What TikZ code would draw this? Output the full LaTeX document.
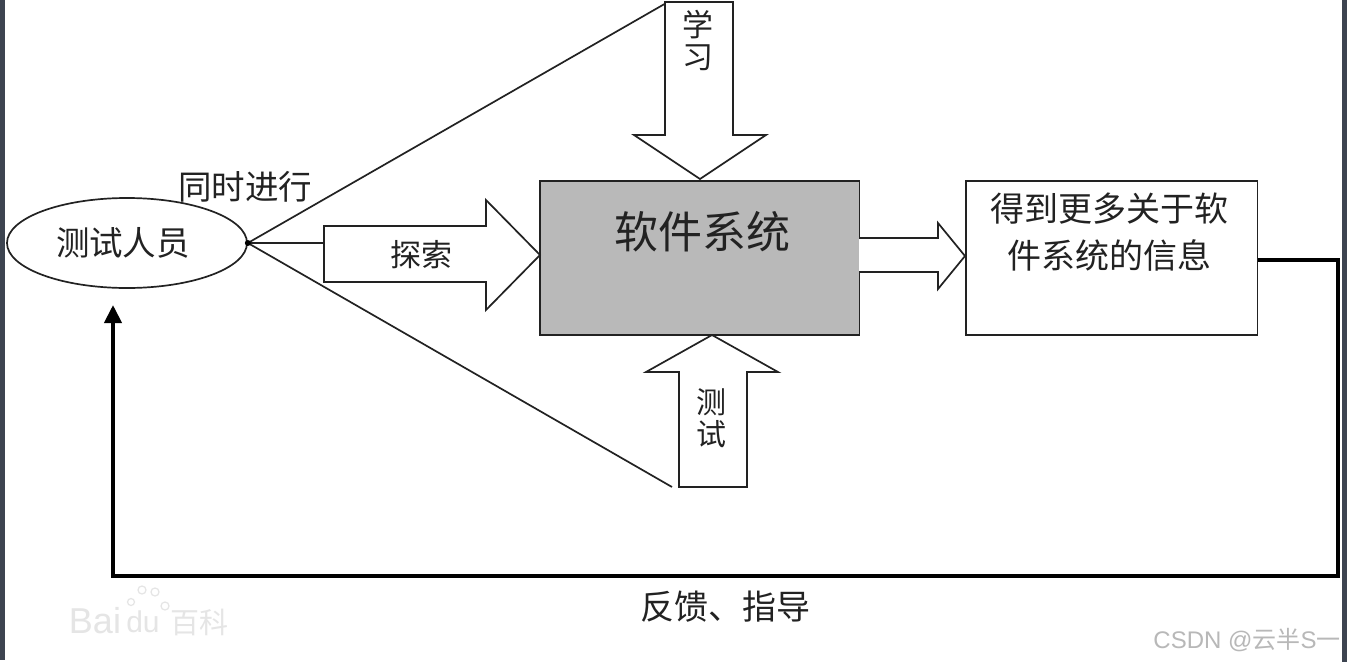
\documentclass[tikz,border=0pt]{standalone}
\usepackage{fontspec}
\setmainfont{Noto Sans CJK SC}[Scale=1]
\newfontfamily\latinf{Liberation Sans}
\usetikzlibrary{arrows.meta,shapes.geometric}
\definecolor{band}{HTML}{3D4450}
\definecolor{sysgray}{HTML}{B9B9B9}
\definecolor{inkc}{HTML}{222222}
\tikzset{
  x=1pt,y=-1pt,
  thinline/.style={draw=inkc,line width=1.7pt,line join=miter},
  block/.style={thinline,fill=white},
  txt/.style={text=inkc,inner sep=0pt,align=center,font=\fontsize{#1pt}{#1pt}\selectfont},
  feedback/.style={draw=black,line width=4pt,line join=miter},
  boxnode/.style={thinline,inner sep=0pt,anchor=north west},
  paw/.style={draw=black!10,line width=1.2pt}
}
\begin{document}
\begin{tikzpicture}
\useasboundingbox (0,0) rectangle (1347,662);
\fill[white] (0,0) rectangle (1347,662);
\fill[band] (0,0) rectangle (5,660);
\fill[band] (1342,0) rectangle (1347,662);

% watermark
\node[txt=36,text=black!10] (wm1) at (95,621) {\latinf Bai};
\node[txt=30,text=black!10] (wm2) at (143,622) {\latinf du};
\node[txt=29,text=black!10] (wm3) at (199,622) {百科};
\draw[paw] (142,590) circle (4);
\draw[paw] (155,592) circle (4);
\draw[paw] (131,602) circle (3.5);
\draw[paw] (165,606) circle (4);

% connector end points
\coordinate (topend) at (668,2);
\coordinate (lowend) at (672,487);
\coordinate (midend) at (324,243);
\coordinate (fbr1) at (1338,260);
\coordinate (fbr2) at (1338,576);
\coordinate (fbl) at (113,576);
\coordinate (fbtip) at (113,305);
\coordinate (fbstart) at (1257,260);

% tester ellipse
\node[ellipse,thinline,fill=white,inner sep=0pt,minimum width=240pt,minimum height=90pt] (tester) at (127,243) {};
\node[txt=33.5] (testerlabel) at (123,243) {测试人员};

% fan of lines
\draw[thinline] (tester.east) -- (topend);
\draw[thinline] (tester.east) -- (midend);
\draw[thinline] (tester.east) -- (lowend);
\fill[black] (tester.east) circle (3);

% central and result boxes
\node[boxnode,fill=sysgray,minimum width=319.5pt,minimum height=154pt] (system) at (539,180) {};
\node[boxnode,fill=white,minimum width=291.5pt,minimum height=154pt] (result) at (965,180) {};
\node[txt=44] (systemlabel) at (702,232) {软件系统};
\node[txt=34,text width=260pt,font=\fontsize{34pt}{47pt}\selectfont] (resultlabel) at (1109,232) {得到更多关于软\\件系统的信息};

% block arrows
\draw[block] (665,2) -- (733,2) -- (733,135) -- (766,135) -- (700,179) -- (634,135) -- (665,135) -- cycle;
\node[txt=31,font=\fontsize{31pt}{32pt}\selectfont] (learnlabel) at (698,40) {学\\习};

\draw[block] (324,226) -- (486,226) -- (486,200) -- (540,255) -- (486,310) -- (486,282) -- (324,282) -- cycle;
\node[txt=31] (explorelabel) at (421,255) {探索};

\draw[block] (679,487) -- (747,487) -- (747,372) -- (778,372) -- (712,335) -- (646,372) -- (679,372) -- cycle;
\node[txt=31,font=\fontsize{30pt}{32pt}\selectfont] (testlabel) at (711,418) {测\\试};

\fill[white] (859,238) -- (938,238) -- (938,223) -- (965,256) -- (938,289) -- (938,272) -- (859,272) -- cycle;
\draw[thinline] (859,238) -- (938,238) -- (938,223) -- (965,256) -- (938,289) -- (938,272) -- (859,272);

% feedback loop
\draw[feedback,-{Triangle[length=18pt,width=17pt]}] (result.east |- fbstart) -- (fbr1) -- (fbr2) -- (fbl) -- (fbtip);

% labels
\node[txt=33.5] (togetherlabel) at (245,187) {同时进行};
\node[txt=34] (fblabel) at (725,607) {反馈、指导};
\node[txt=24,text=black!28] (csdn) at (1247,640) {\latinf CSDN @\rmfamily 云半\latinf S\rmfamily 一};
\end{tikzpicture}
\end{document}
